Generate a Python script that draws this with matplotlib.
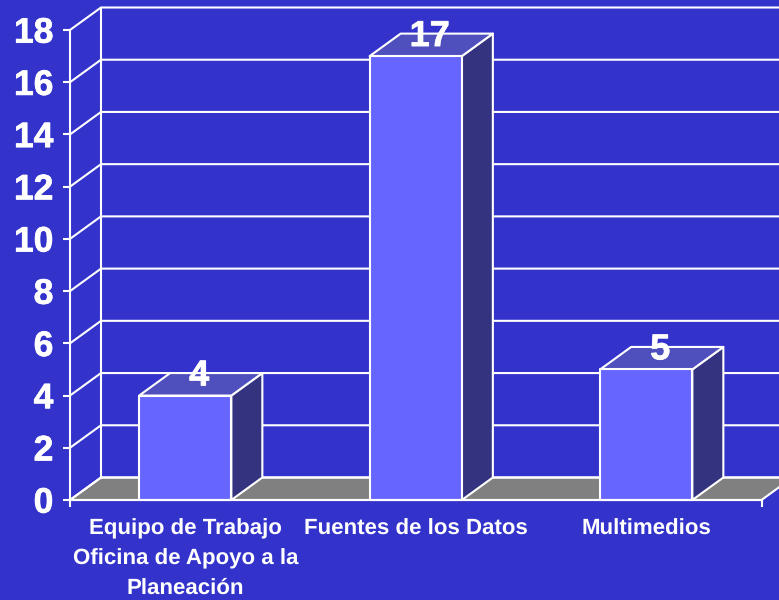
import matplotlib
matplotlib.use('Agg')
import matplotlib.pyplot as plt
import matplotlib.patheffects as pe
from matplotlib.patches import Polygon

plt.rcParams['font.family'] = ['Liberation Sans', 'DejaVu Sans']
plt.rcParams['text.hinting'] = 'no_hinting'

# ── Data ───────────────────────────────────────────────────────────────
CATEGORIES = ['Equipo de Trabajo\nOficina de Apoyo a la\nPlaneación',
              'Fuentes de los Datos',
              'Multimedios']
VALUES = [4, 17, 5]
Y_TICKS = list(range(0, 19, 2))

# ── Style ──────────────────────────────────────────────────────────────
BG = '#3333CC'
FRONT = '#6666FF'
TOP = '#4F4FBE'
SIDE = '#333380'
FLOOR = '#808080'
LW = 1.5
BOLDER = [pe.withStroke(linewidth=0.5, foreground='white')]

W, H = 779, 600
X0, X1 = 70, 761.5      # front plane, pixels
Y0, Y18 = 500, 30
BAR_W = 0.4
DX = 31 / ((X1 - X0) / 3)            # depth in category units
DY = 22.5 / ((Y0 - Y18) / 18)        # depth in value units

fig = plt.figure(figsize=(W / 100, H / 100), dpi=100, facecolor=BG)
ax = fig.add_axes([X0 / W, 1 - Y0 / H, (X1 - X0) / W, (Y0 - Y18) / H])
ax.patch.set_visible(False)
ax.set_xlim(0, 3)
ax.set_ylim(0, 18)


def poly(pts, color, z):
    ax.add_patch(Polygon(pts, closed=True, facecolor=color, edgecolor='white',
                         lw=LW, joinstyle='round', clip_on=False, zorder=z))


# ── Floor and walls ────────────────────────────────────────────────────
poly([(0, 0), (3, 0), (3 + DX, DY), (DX, DY)], FLOOR, 1)
for v in Y_TICKS:
    ax.plot([0, DX, 3 + DX], [v, v + DY, v + DY], color='white', lw=LW,
            clip_on=False, zorder=2, solid_joinstyle='round')
ax.plot([DX, DX], [DY, 18 + DY], color='white', lw=LW, clip_on=False, zorder=2)

# ── Bars ───────────────────────────────────────────────────────────────
for i, val in enumerate(VALUES):
    l = i + 0.5 - BAR_W / 2
    r = i + 0.5 + BAR_W / 2
    poly([(r, 0), (r + DX, DY), (r + DX, val + DY), (r, val)], SIDE, 3)
    poly([(l, val), (r, val), (r + DX, val + DY), (l + DX, val + DY)], TOP, 3)
    poly([(l, 0), (r, 0), (r, val), (l, val)], FRONT, 4)
    ax.text(i + 0.5 + DX * 0.45, val + DY - 0.12, str(val), color='white',
            fontsize=26, fontweight='bold', ha='center', va='center', zorder=6,
            path_effects=BOLDER)

# ── Axes ───────────────────────────────────────────────────────────────
for side in ['top', 'right']:
    ax.spines[side].set_visible(False)
for side in ['left', 'bottom']:
    ax.spines[side].set_color('white')
    ax.spines[side].set_linewidth(LW)
    ax.spines[side].set_zorder(5)

ax.set_yticks(Y_TICKS)
ax.tick_params(axis='y', colors='white', labelsize=25.5, length=5, width=LW, pad=7)
for lab in ax.get_yticklabels():
    lab.set_fontweight('bold')
    lab.set_path_effects(BOLDER)

ax.set_xticks([0, 3])
ax.set_xticklabels([])
ax.tick_params(axis='x', colors='white', length=5, width=LW)
ax.set_xticks([0.5, 1.5, 2.5], minor=True)
ax.set_xticklabels(CATEGORIES, minor=True, color='white', fontsize=16,
                   fontweight='bold', linespacing=1.56)
ax.tick_params(axis='x', which='minor', length=0, pad=13.5)

fig.savefig('out.png', dpi=100, facecolor=BG)
